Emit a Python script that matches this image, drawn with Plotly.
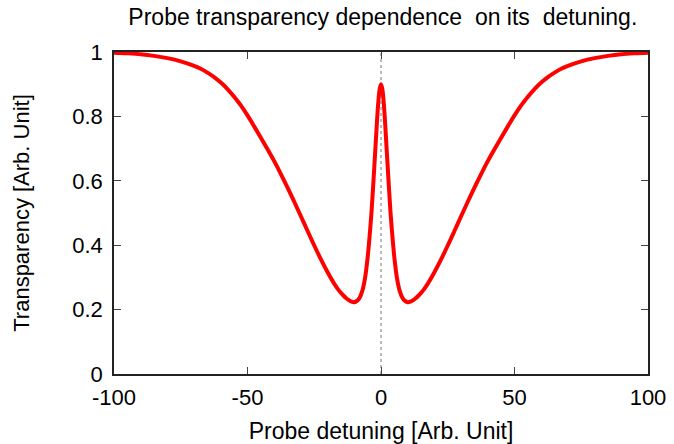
import plotly.graph_objects as go

# half-curve (x >= 0); curve is symmetric about 0
x_half = [0, 0.5, 1, 1.5, 2, 2.5, 3, 3.5, 4, 5, 6, 7, 8, 9, 10, 11, 12, 13, 14, 15, 16,
          17, 18, 20, 22.5, 25, 27.5, 30, 32.5, 35, 37.5, 40, 42.5, 45, 47.5, 50, 52.5,
          55, 57.5, 60, 62.5, 65, 67.5, 70, 75, 80, 85, 90, 95, 100]
y_half = [0.900, 0.885, 0.845, 0.785, 0.715, 0.645, 0.575, 0.510, 0.455, 0.362, 0.297,
          0.258, 0.237, 0.227, 0.223, 0.2245, 0.229, 0.235, 0.243, 0.252, 0.262,
          0.274, 0.287, 0.316, 0.356, 0.399, 0.444, 0.490, 0.535, 0.579, 0.621, 0.661,
          0.698, 0.734, 0.769, 0.803, 0.834, 0.861, 0.885, 0.905, 0.922, 0.936, 0.948,
          0.957, 0.971, 0.981, 0.988, 0.993, 0.996, 0.998]

x_vals = [-v for v in reversed(x_half[1:])] + x_half
y_vals = list(reversed(y_half[1:])) + y_half

x_ticks = [-100, -50, 0, 50, 100]
x_tick_text = ["-100", "-50", "0", "50", "100"]
y_ticks = [0, 0.2, 0.4, 0.6, 0.8, 1]
y_tick_text = ["0", "0.2", "0.4", "0.6", "0.8", "1"]

title = "Probe transparency dependence&nbsp; on its&nbsp; detuning."
x_title = "Probe detuning [Arb. Unit]"
y_title = "Transparency [Arb. Unit]"

FONT = "Liberation Sans, Arial, sans-serif"

fig = go.Figure()
fig.add_trace(go.Scatter(x=x_vals, y=y_vals, mode="lines",
                         line=dict(color="#ff0000", width=4, shape="spline", smoothing=1),
                         showlegend=False, hoverinfo="skip"))

fig.add_shape(type="line", xref="x", yref="y", x0=0, x1=0, y0=0, y1=1,
              line=dict(color="#777777", width=1, dash="dot"), layer="below")

axis_common = dict(showline=True, linecolor="#222222", linewidth=1.5, mirror="ticks",
                   ticks="inside", ticklen=7, tickwidth=1, tickcolor="#444444",
                   showgrid=False, zeroline=False, automargin=False,
                   tickfont=dict(family=FONT, size=22, color="#000000"))

fig.update_xaxes(range=[-100, 100], tickvals=x_ticks, ticktext=x_tick_text,
                 ticklabelstandoff=3, title_text=x_title, title_standoff=24,
                 title_font=dict(family=FONT, size=23, color="#000000"), **axis_common)
fig.update_yaxes(range=[0, 1], tickvals=y_ticks, ticktext=y_tick_text,
                 ticklabelstandoff=5, title_text=y_title, title_standoff=37,
                 title_font=dict(family=FONT, size=22, color="#000000"), **axis_common)

fig.update_layout(
    width=674, height=444,
    margin=dict(l=114, r=26, t=52, b=70),
    paper_bgcolor="white", plot_bgcolor="white",
    title=dict(text=title, x=0.568, xanchor="center", y=0.962, yanchor="middle",
               font=dict(family=FONT, size=23, color="#000000")),
)

fig.write_html("out.html")
